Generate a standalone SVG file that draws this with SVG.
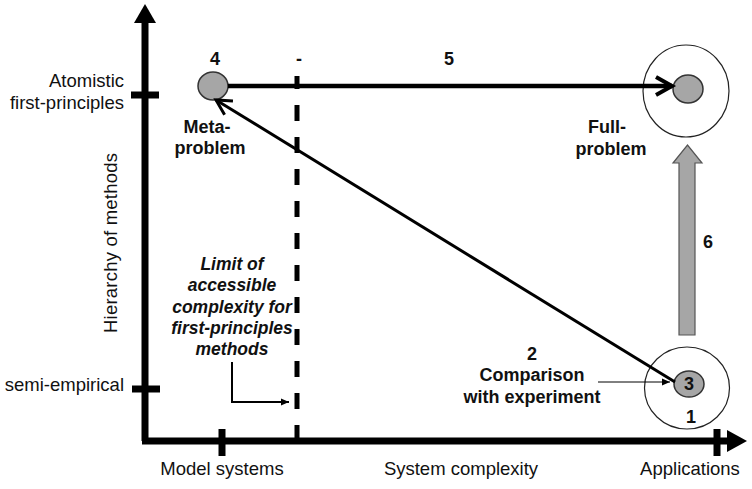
<svg xmlns="http://www.w3.org/2000/svg" width="752" height="489" viewBox="0 0 752 489">
<defs>
<style>
.lab{font-family:"Liberation Sans",Arial,sans-serif;font-size:18.5px;fill:#111}
.b{font-family:"Liberation Sans",Arial,sans-serif;font-weight:bold;font-size:18px;fill:#111;text-anchor:middle}
.bi{font-family:"Liberation Sans",Arial,sans-serif;font-weight:bold;font-style:italic;font-size:17.5px;fill:#111;text-anchor:middle}
.axis{stroke:#000;stroke-width:7;fill:none}
.dot{fill:#a6a6a6;stroke:#333;stroke-width:1.5}
.ring{fill:none;stroke:#222;stroke-width:1.2}
</style>
<marker id="open" markerUnits="userSpaceOnUse" markerWidth="24" markerHeight="24" refX="19" refY="12" orient="auto" viewBox="0 0 24 24">
<path d="M3,3 L19,12 L3,21" fill="none" stroke="#000" stroke-width="4" stroke-linejoin="miter"/>
</marker>
<marker id="open2" markerUnits="userSpaceOnUse" markerWidth="24" markerHeight="24" refX="19" refY="12" orient="auto" viewBox="0 0 24 24">
<path d="M4,4 L19,12 L4,20" fill="none" stroke="#000" stroke-width="3"/>
</marker>
<marker id="small" markerUnits="userSpaceOnUse" markerWidth="10" markerHeight="10" refX="8" refY="5" orient="auto" viewBox="0 0 10 10">
<path d="M0,1.5 L8,5 L0,8.5 Z" fill="#000"/>
</marker>
</defs>
<rect width="752" height="489" fill="#fff"/>

<g id="axes">
<line class="axis" x1="145" y1="441" x2="145" y2="20"/>
<path d="M145,4 L134,23 L156,23 Z" fill="#000"/>
<line class="axis" x1="142" y1="441" x2="730" y2="441"/>
<path d="M747,441 L727,430 L727,452 Z" fill="#000"/>
<line class="axis" x1="131" y1="95" x2="159" y2="95"/>
<line class="axis" x1="132" y1="389" x2="160" y2="389"/>
<line class="axis" x1="222" y1="429" x2="222" y2="456"/>
<line class="axis" x1="717" y1="429" x2="717" y2="456"/>
<text class="lab" x="124" y="87" text-anchor="end">Atomistic</text>
<text class="lab" x="124" y="109" text-anchor="end">first-principles</text>
<text class="lab" x="124" y="391" text-anchor="end">semi-empirical</text>
<text class="lab" transform="translate(117,243) rotate(-90)" text-anchor="middle" textLength="180">Hierarchy of methods</text>
<text class="lab" x="222" y="475" text-anchor="middle">Model systems</text>
<text class="lab" x="461" y="475" text-anchor="middle">System complexity</text>
<text class="lab" x="690" y="475" text-anchor="middle">Applications</text>
</g>

<g id="limit">
<line x1="297" y1="441" x2="297" y2="76" stroke="#000" stroke-width="5" stroke-dasharray="16 16"/>
<text class="b" x="299" y="65">-</text>
<text class="bi" x="232" y="270">Limit of</text>
<text class="bi" x="232" y="291">accessible</text>
<text class="bi" x="232" y="313">complexity for</text>
<text class="bi" x="232" y="334">first-principles</text>
<text class="bi" x="232" y="355">methods</text>
</g>

<g id="meta-problem">
<ellipse class="dot" cx="213" cy="86" rx="15" ry="14"/>
<text class="b" x="215" y="65">4</text>
<text class="b" x="207" y="133">Meta-</text>
<text class="b" x="210" y="154">problem</text>
</g>

<g id="full-problem">
<ellipse class="ring" cx="686" cy="91" rx="43" ry="46"/>
<ellipse class="dot" cx="688" cy="89" rx="15" ry="14"/>
<text class="b" x="607" y="133">Full-</text>
<text class="b" x="611" y="155">problem</text>
</g>

<g id="experiment">
<ellipse class="ring" cx="687" cy="388" rx="42.5" ry="41"/>
<ellipse class="dot" cx="689" cy="384" rx="15" ry="13"/>
<text class="b" x="689" y="390" font-size="17">3</text>
<text class="b" x="691" y="423" font-size="17">1</text>
<text class="b" x="532" y="360">2</text>
<text class="b" x="532" y="381">Comparison</text>
<text class="b" x="532" y="403">with experiment</text>
</g>

<g id="connectors">
<line x1="228" y1="86" x2="672" y2="86" stroke="#000" stroke-width="4.5" marker-end="url(#open)"/>
<line x1="675" y1="382" x2="216" y2="100" stroke="#000" stroke-width="3" marker-end="url(#open2)"/>
<line x1="598" y1="382" x2="670" y2="382" stroke="#000" stroke-width="1" marker-end="url(#small)"/>
<path d="M232,362 L232,402 L289,402" fill="none" stroke="#000" stroke-width="2" marker-end="url(#small)"/>
<path d="M679,335 L679,163 L673,163 L687.5,145 L702,163 L695,163 L695,335 Z" fill="#a6a6a6" stroke="#555" stroke-width="1.2"/>
<text class="b" x="449" y="65">5</text>
<text class="b" x="708" y="248">6</text>
</g>
</svg>
